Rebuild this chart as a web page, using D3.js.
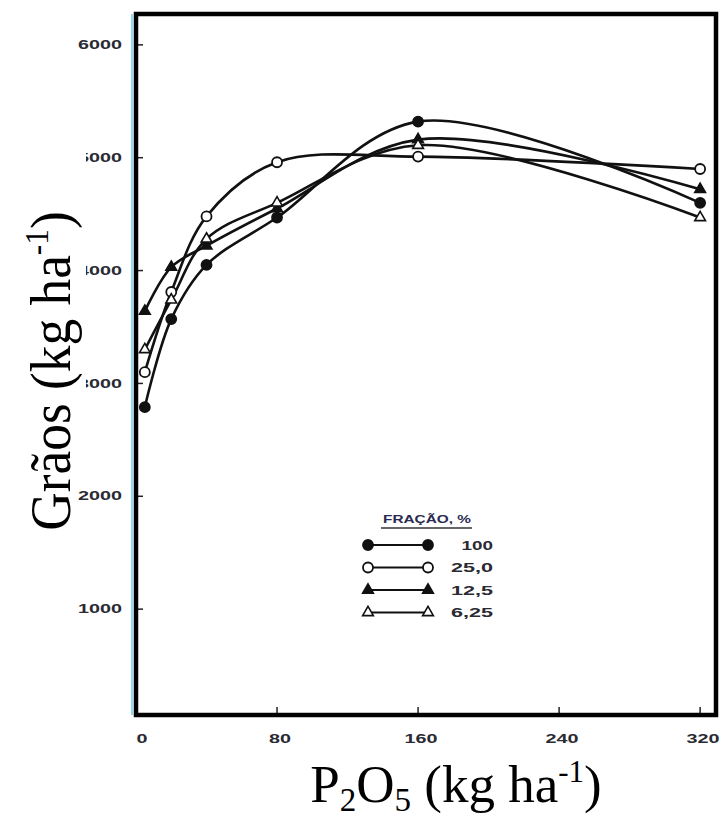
<!DOCTYPE html>
<html>
<head>
<meta charset="utf-8">
<script src="https://cdn.jsdelivr.net/npm/d3@7"></script>
<style>
  body { margin:0; background:#fff; }
  svg { display:block; }
</style>
</head>
<body>
<svg id="chart"></svg>
<script>
// doses of P2O5 (kg/ha)
var doses = [5, 20, 40, 80, 160, 320];
// grain yield for each fraction of soil fertilized
var fr100 = [2790, 3570, 4050, 4470, 5320, 4600];
var fr25  = [3100, 3810, 4480, 4960, 5010, 4900];
var fr12  = [3640, 4030, 4220, 4550, 5160, 4720];
var fr6   = [3300, 3740, 4280, 4600, 5110, 4470];
var seriesNames = ["100", "25,0", "12,5", "6,25"];
var xTicks = [0, 80, 160, 240, 320];
var yTicks = [1000, 2000, 3000, 4000, 5000, 6000];

var screen = {width:720, height:819};
var frame = {left:136, right:716, top:14, bottom:715};

var svg = d3.select("#chart")
    .attr("width", screen.width)
    .attr("height", screen.height);

var xScale = d3.scaleLinear()
    .domain([0, 329])
    .range([frame.left, frame.right]);

var yScale = d3.scaleLinear()
    .domain([0, 6300])
    .range([722, 11]);

var series = [
    {name:seriesNames[0], values:fr100, marker:"dot"},
    {name:seriesNames[1], values:fr25,  marker:"ring"},
    {name:seriesNames[2], values:fr12,  marker:"tri"},
    {name:seriesNames[3], values:fr6,   marker:"otri"}
];

// scan artefact along the left axis
svg.append("line")
    .attr("x1", frame.left-4).attr("x2", frame.left-4)
    .attr("y1", frame.top).attr("y2", frame.bottom)
    .attr("stroke", "#8fdcec")
    .attr("stroke-width", 2);

// y tick labels (wide, blurry print font)
var tickFont = "'Liberation Sans', Arial, sans-serif";
svg.append("g")
    .selectAll("text")
    .data(yTicks)
    .enter()
    .append("text")
    .attr("x", 122)
    .attr("y", function(d){ return yScale(d); })
    .attr("dy", "0.35em")
    .attr("text-anchor", "end")
    .attr("font-family", tickFont)
    .attr("font-weight", "bold")
    .attr("font-size", 12)
    .attr("textLength", 44)
    .attr("lengthAdjust", "spacingAndGlyphs")
    .attr("fill", "#2a2a33")
    .text(function(d){ return d; });

// inner ticks
svg.append("g")
    .selectAll("line")
    .data(yTicks)
    .enter()
    .append("line")
    .attr("x1", frame.left).attr("x2", frame.left+7)
    .attr("y1", function(d){ return yScale(d); })
    .attr("y2", function(d){ return yScale(d); })
    .attr("stroke", "#222").attr("stroke-width", 1.5);

svg.append("g")
    .selectAll("line")
    .data(xTicks.slice(1))
    .enter()
    .append("line")
    .attr("x1", function(d){ return xScale(d); })
    .attr("x2", function(d){ return xScale(d); })
    .attr("y1", frame.bottom).attr("y2", frame.bottom-8)
    .attr("stroke", "#222").attr("stroke-width", 1.5);

// x tick labels
svg.append("g")
    .selectAll("text")
    .data(xTicks)
    .enter()
    .append("text")
    .attr("x", function(d){ return d === 0 ? xScale(d)+6 : xScale(d)+3; })
    .attr("y", 743)
    .attr("text-anchor", "middle")
    .attr("font-family", tickFont)
    .attr("font-weight", "bold")
    .attr("font-size", 13)
    .attr("textLength", function(d){ return String(d).length*11; })
    .attr("lengthAdjust", "spacingAndGlyphs")
    .attr("fill", "#2a2a33")
    .text(function(d){ return d; });

// curves
var line = d3.line()
    .x(function(d){ return xScale(d.x); })
    .y(function(d){ return yScale(d.y); })
    .curve(d3.curveCatmullRom.alpha(0.5));

var pts = function(s){
    return doses.map(function(x, i){ return {x:x, y:s.values[i]}; });
};

var g = svg.append("g").classed("graph", true);

g.selectAll("path")
    .data(series)
    .enter()
    .append("path")
    .attr("d", function(s){ return line(pts(s)); })
    .attr("fill", "none")
    .attr("stroke", "#111")
    .attr("stroke-width", 2.6);

var tri = d3.symbol().type(d3.symbolTriangle).size(50);

var drawMarker = function(sel, kind, x, y){
    if (kind === "dot" || kind === "ring") {
        sel.append("circle")
            .attr("cx", x).attr("cy", y).attr("r", 5)
            .attr("fill", kind === "dot" ? "#111" : "#fff")
            .attr("stroke", "#111").attr("stroke-width", 1.8);
    } else {
        sel.append("path")
            .attr("d", tri)
            .attr("transform", "translate("+x+","+y+")")
            .attr("fill", kind === "tri" ? "#111" : "#fff")
            .attr("stroke", "#111").attr("stroke-width", 1.6);
    }
};

series.forEach(function(s){
    var mg = g.append("g");
    pts(s).forEach(function(p){
        drawMarker(mg, s.marker, xScale(p.x), yScale(p.y));
    });
});

// frame
svg.append("rect")
    .attr("x", frame.left).attr("y", frame.top)
    .attr("width", frame.right-frame.left)
    .attr("height", frame.bottom-frame.top)
    .attr("fill", "none")
    .attr("stroke", "#000")
    .attr("stroke-width", 4.5);

// legend
var legend = svg.append("g").attr("transform", "translate(368,519)");
legend.append("text")
    .attr("x", 15).attr("y", 4)
    .attr("font-family", tickFont).attr("font-weight", "bold")
    .attr("font-size", 11).attr("fill", "#2a2a50")
    .attr("textLength", 88)
    .attr("lengthAdjust", "spacingAndGlyphs")
    .text("FRAÇÃO, %");
legend.append("line")
    .attr("x1", 13).attr("x2", 104).attr("y1", 9).attr("y2", 9)
    .attr("stroke", "#333").attr("stroke-width", 1.4);

series.forEach(function(s, i){
    var ly = 26 + i*22.5;
    legend.append("line")
        .attr("x1", 0).attr("x2", 60).attr("y1", ly).attr("y2", ly)
        .attr("stroke", "#111").attr("stroke-width", 2);
    drawMarker(legend, s.marker, 0, ly);
    drawMarker(legend, s.marker, 60, ly);
    legend.append("text")
        .attr("x", 125).attr("y", ly)
        .attr("dy", "0.35em")
        .attr("text-anchor", "end")
        .attr("font-family", tickFont).attr("font-weight", "bold")
        .attr("font-size", 13)
        .attr("textLength", s.name.length*10.5)
        .attr("lengthAdjust", "spacingAndGlyphs")
        .attr("fill", "#2a2a33")
        .text(s.name);
});

// axis titles (pasted over the tick labels in the original)
var serif = "'Liberation Serif', 'Times New Roman', serif";
svg.append("rect")
    .attr("x", 0).attr("y", 150)
    .attr("width", 86).attr("height", 320)
    .attr("fill", "#fff");

// squeezed a bit along its length, like the pasted original
var yTitle = svg.append("text")
    .attr("transform", "translate(70,371) rotate(-90) scale(0.92,1)")
    .attr("text-anchor", "middle")
    .attr("font-family", serif)
    .attr("font-size", 58)
    .attr("fill", "#000");
yTitle.append("tspan").text("Grãos (kg ha");
yTitle.append("tspan").attr("font-size", 34).attr("dy", -22).text("-1");
yTitle.append("tspan").attr("dy", 22).text(")");

var xTitle = svg.append("text")
    .attr("x", 456).attr("y", 802)
    .attr("text-anchor", "middle")
    .attr("font-family", serif)
    .attr("font-size", 53)
    .attr("fill", "#000");
xTitle.append("tspan").text("P");
xTitle.append("tspan").attr("font-size", 33).attr("dy", 9).text("2");
xTitle.append("tspan").attr("dy", -9).text("O");
xTitle.append("tspan").attr("font-size", 33).attr("dy", 9).text("5");
xTitle.append("tspan").attr("dy", -9).text(" (kg ha");
xTitle.append("tspan").attr("font-size", 31).attr("dy", -20).text("-1");
xTitle.append("tspan").attr("dy", 20).text(")");
</script>
</body>
</html>
